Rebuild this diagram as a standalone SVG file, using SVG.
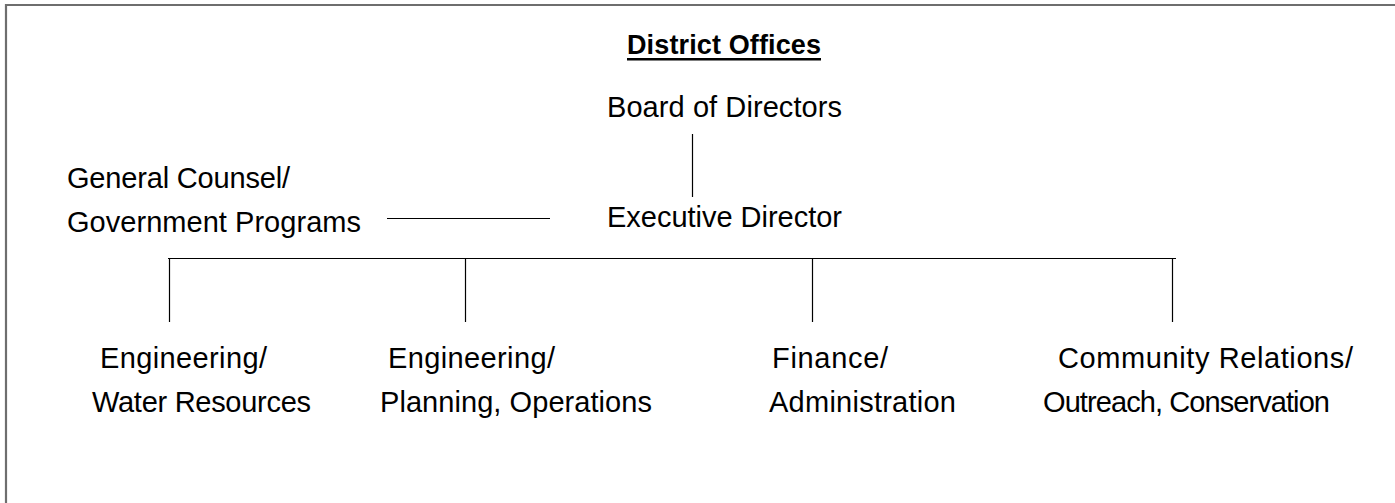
<svg xmlns="http://www.w3.org/2000/svg" width="1395" height="503" viewBox="0 0 1395 503">
<style>
text{font-family:"Liberation Sans",Arial,sans-serif;font-size:29px;fill:#000}
.title{font-weight:bold;font-size:27px}
.conn line{stroke:#000;stroke-width:1.2}
.frame{stroke:#6e6e6e;stroke-width:2.2;fill:none}
</style>
<rect width="1395" height="503" fill="#fff"/>
<path class="frame" d="M6,503 V5 H1395"/>
<g id="title">
<text class="title" x="627" y="54" textLength="194">District Offices</text>
<rect x="627" y="58" width="194" height="2.5" fill="#000"/>
</g>
<g id="board"><text x="607" y="117" textLength="235">Board of Directors</text></g>
<g id="exec"><text x="607" y="227" textLength="235">Executive Director</text></g>
<g id="counsel">
<text x="67" y="188" textLength="223">General Counsel/</text>
<text x="67" y="232" textLength="294">Government Programs</text>
</g>
<g id="eng-water">
<text x="100" y="368" textLength="167">Engineering/</text>
<text x="92" y="412" textLength="219">Water Resources</text>
</g>
<g id="eng-planning">
<text x="388" y="368" textLength="167">Engineering/</text>
<text x="380" y="412" textLength="272">Planning, Operations</text>
</g>
<g id="finance">
<text x="772" y="368" textLength="116">Finance/</text>
<text x="769" y="412" textLength="187">Administration</text>
</g>
<g id="community">
<text x="1058" y="368" textLength="295">Community Relations/</text>
<text x="1043" y="412" textLength="287">Outreach, Conservation</text>
</g>
<g id="connectors" class="conn">
<line x1="692.5" y1="134" x2="692.5" y2="197"/>
<line x1="387" y1="218.5" x2="550" y2="218.5"/>
<line x1="168" y1="258.5" x2="1176" y2="258.5"/>
<line x1="169.5" y1="259" x2="169.5" y2="322"/>
<line x1="465.5" y1="259" x2="465.5" y2="322"/>
<line x1="812.5" y1="259" x2="812.5" y2="322"/>
<line x1="1172.5" y1="259" x2="1172.5" y2="322"/>
</g>
</svg>
